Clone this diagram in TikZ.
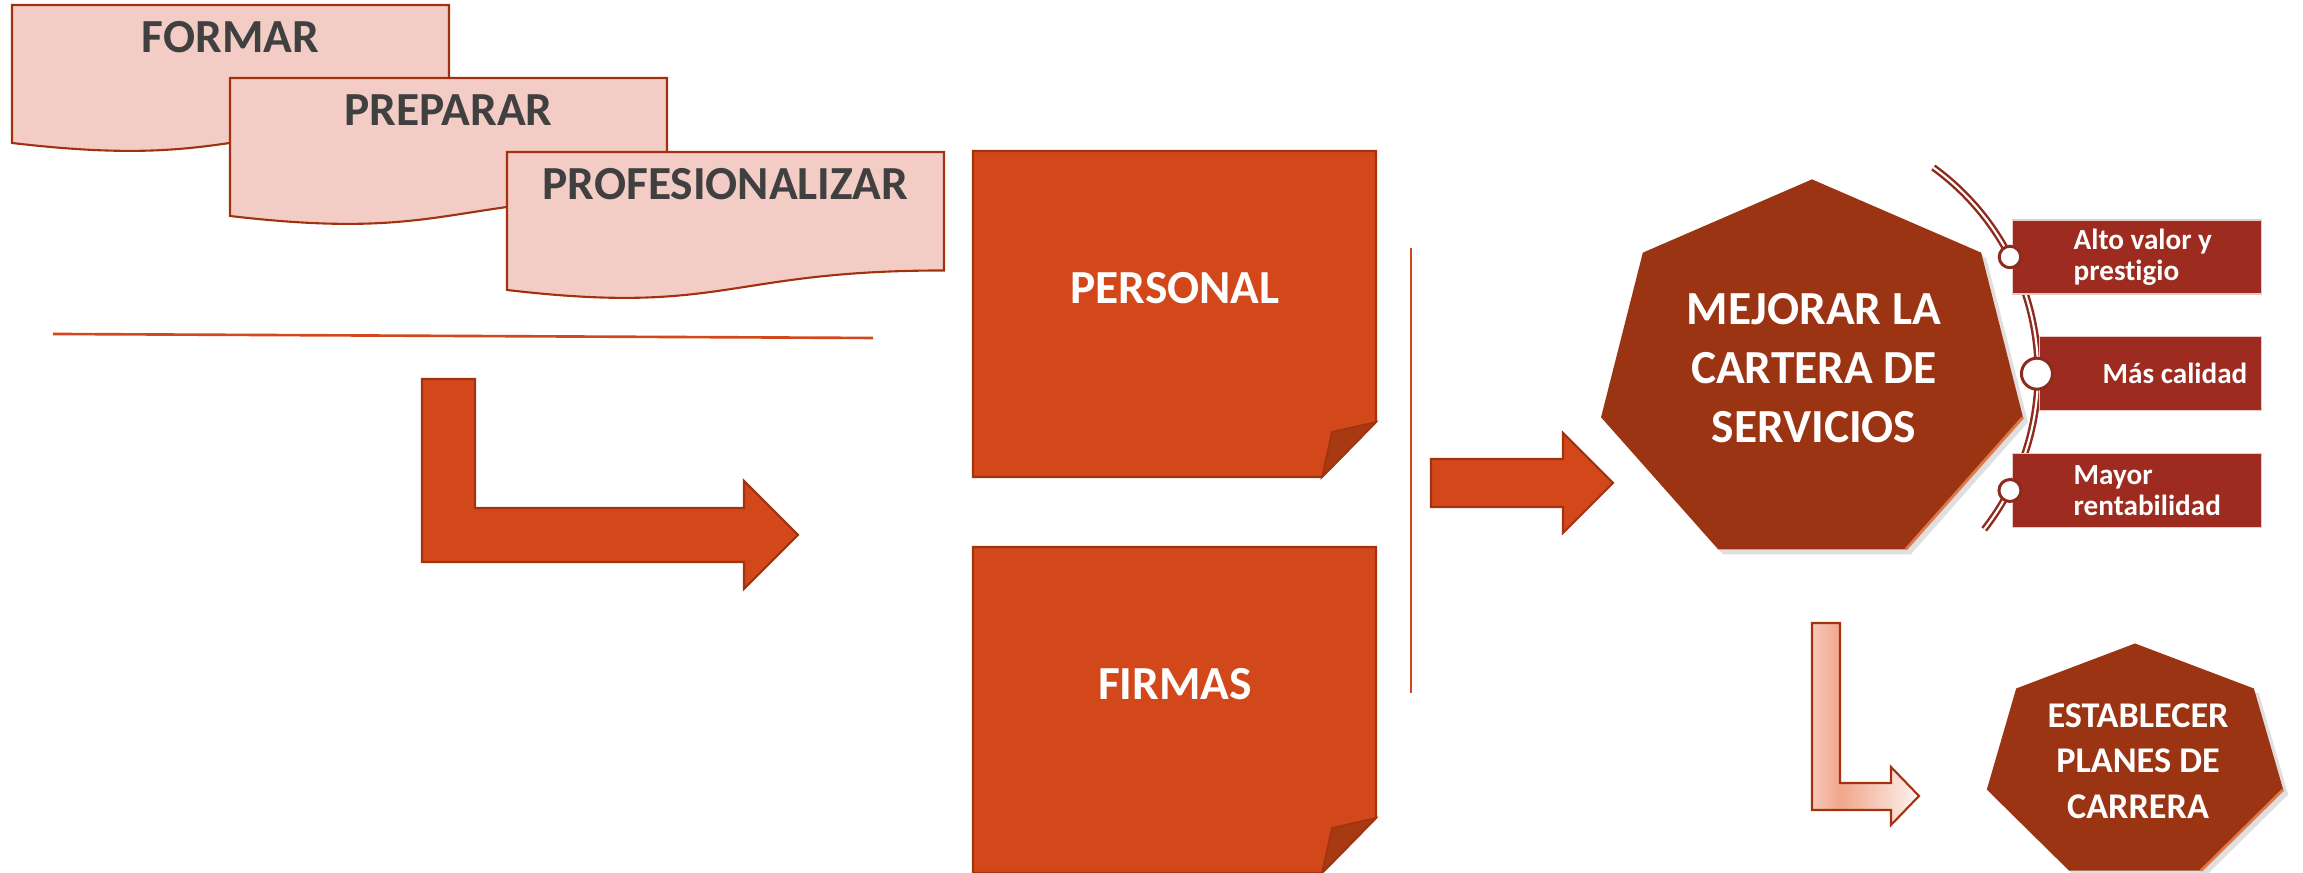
\documentclass[tikz,border=0pt]{standalone}
\usepackage{fontspec}
\setmainfont{Carlito}[Ligatures=NoCommon]
\usetikzlibrary{shadows}
\usetikzlibrary{positioning}
\usetikzlibrary{calc}

\definecolor{docpink}{HTML}{F4CCC6}
\definecolor{docline}{HTML}{A0320F}
\definecolor{doctext}{HTML}{404040}
\definecolor{rust}{HTML}{D2481A}
\definecolor{rustline}{HTML}{A3330F}
\definecolor{rustfold}{HTML}{A73A12}
\definecolor{hepta}{HTML}{9A3412}
\definecolor{heptalight}{HTML}{E07848}
\definecolor{listred}{HTML}{9E2B1F}
\definecolor{ringred}{HTML}{8E2A1E}
\definecolor{shadeA}{HTML}{F6C9B8}
\definecolor{shadeB}{HTML}{F0A68B}
\definecolor{shadeC}{HTML}{FDF3EF}

\pgfdeclarehorizontalshading{bentshade}{100bp}{color(0bp)=(shadeA); color(25bp)=(shadeA); color(38bp)=(shadeB); color(75bp)=(shadeC); color(100bp)=(shadeC)}

\tikzstyle{docshape}=[fill=docpink, draw=docline, line width=0.6pt]
\tikzstyle{doclabel}=[text=doctext, font=\fontsize{13.5}{16}\selectfont\bfseries, inner sep=0pt]
\tikzstyle{block}=[fill=rust, draw=rustline, line width=0.6pt]
\tikzstyle{fold}=[fill=rustfold, draw=rustline, line width=0.5pt]
\tikzstyle{blocklabel}=[text=white, font=\fontsize{13.5}{16}\selectfont\bfseries, inner sep=0pt]
\tikzstyle{divider}=[draw=rust, line width=0.75pt]
\tikzstyle{heptagon}=[fill=hepta, drop shadow={opacity=0.25, shadow xshift=0.5mm, shadow yshift=-0.5mm}]
\tikzstyle{heptaedge}=[draw=heptalight, line width=0.8pt]
\tikzstyle{heptalabel}=[text=white, align=center, font=\fontsize{13.5}{16.8}\selectfont\bfseries, inner sep=0pt]
\tikzstyle{listbox}=[rectangle, fill=listred, draw=white!75!listred, line width=0.3pt, minimum height=0.74cm, inner sep=0pt]
\tikzstyle{listlabel}=[text=white, align=left, anchor=west, font=\fontsize{8.3}{8.7}\selectfont\bfseries, inner sep=0pt]
\tikzstyle{bead}=[circle, fill=white, draw=ringred, line width=0.85pt, inner sep=0pt]
\tikzstyle{ring}=[draw=ringred, double=white, line width=0.7pt, double distance=0.6pt]
\tikzstyle{bentgrad}=[shade, shading=bentshade, draw=rustline, line width=0.6pt]

\begin{document}
\begin{tikzpicture}

  \useasboundingbox (0,0) rectangle (23.03,8.73);

  % stacked documents
  \foreach \x/\y/\name/\txt in {0.12/8.68/formar/FORMAR, 2.30/7.95/preparar/PREPARAR, 5.07/7.21/profes/PROFESIONALIZAR}
  {
    \begin{scope}[shift={(\x,\y)}]
      \draw[docshape] (0,0) -- (4.37,0) -- (4.37,-1.185) .. controls (2.185,-1.185) and (2.185,-1.637) .. (0,-1.38) -- cycle;
      \node[doclabel] (\name) at (2.185,-0.325) {\txt};
    \end{scope}
  }

  \draw[divider] (0.53,5.39) -- (8.73,5.35);

  % bent arrow
  \draw[block] (4.22,4.94) -- (4.75,4.94) -- (4.75,3.65) -- (7.44,3.65) -- (7.44,3.92) -- (7.98,3.38) -- (7.44,2.84) -- (7.44,3.11) -- (4.22,3.11) -- cycle;

  % sticky notes
  \foreach \dy/\name/\txt in {0/personal/PERSONAL, -3.96/firmas/FIRMAS}
  {
    \begin{scope}[yshift=\dy cm]
      \draw[block] (9.73,7.22) -- (13.76,7.22) -- (13.76,4.51) -- (13.22,3.96) -- (9.73,3.96) -- cycle;
      \draw[fold] (13.76,4.51) -- (13.32,4.41) -- (13.22,3.96) -- cycle;
      \node[blocklabel] (\name) at (11.75,5.85) {\txt};
    \end{scope}
  }

  \draw[divider, line width=0.6pt] (14.11,6.25) -- (14.11,1.80);

  \draw[block] (14.31,4.14) -- (15.63,4.14) -- (15.63,4.40) -- (16.13,3.90) -- (15.63,3.40) -- (15.63,3.66) -- (14.31,3.66) -- cycle;

  % ring of the list
  \draw[ring] (17.84,5.00) ++(54:2.54) arc[start angle=54, end angle=-38, radius=2.54];

  % heptagons
  \foreach \cx/\cy/\rx/\ry in {18.12/4.99/2.164/1.946, 21.35/1.10/1.52/1.195}
  {
    \begin{scope}[shift={(\cx,\cy)}]
      \fill[heptagon] (90:\rx cm and \ry cm) \foreach \k in {1,...,6} { -- ({90+\k*360/7}:\rx cm and \ry cm) } -- cycle;
      \draw[heptaedge] ({90-102.857}:\rx cm and \ry cm) -- ({90-154.286}:\rx cm and \ry cm);
    \end{scope}
  }

  \node[heptalabel] (mejorar) at (18.14,5.05) {MEJORAR LA\\CARTERA DE\\SERVICIOS};
  \node[heptalabel, font=\fontsize{10.3}{12.95}\selectfont\bfseries] (establecer) at (21.38,1.12) {ESTABLECER\\PLANES DE\\CARRERA};

  \draw[bentgrad] (18.12,2.50) -- (18.40,2.50) -- (18.40,0.90) -- (18.91,0.90) -- (18.91,1.06) -- (19.19,0.77) -- (18.91,0.48) -- (18.91,0.63) -- (18.12,0.63) -- cycle;

  % list boxes
  \foreach \y/\name/\boxw in {6.16/alto/2.49, 4.993/mas/2.22, 3.825/mayor/2.49}
    \node[listbox, minimum width=\boxw cm, anchor=east] (\name) at (22.62,\y) {};

  \foreach \name/\sz in {alto/0.215, mas/0.31, mayor/0.22}
    \node[bead, minimum size=\sz cm] (\name-dot) at ([xshift=-0.02cm]\name.west) {};

  \node[listlabel] (alto-txt) at ([xshift=0.61cm]alto.west) {Alto valor y\\prestigio};
  \node[listlabel] (mas-txt) at ([xshift=0.63cm]mas.west) {Más calidad};
  \node[listlabel] (mayor-txt) at ([xshift=0.61cm]mayor.west) {Mayor\\rentabilidad};

\end{tikzpicture}
\end{document}
